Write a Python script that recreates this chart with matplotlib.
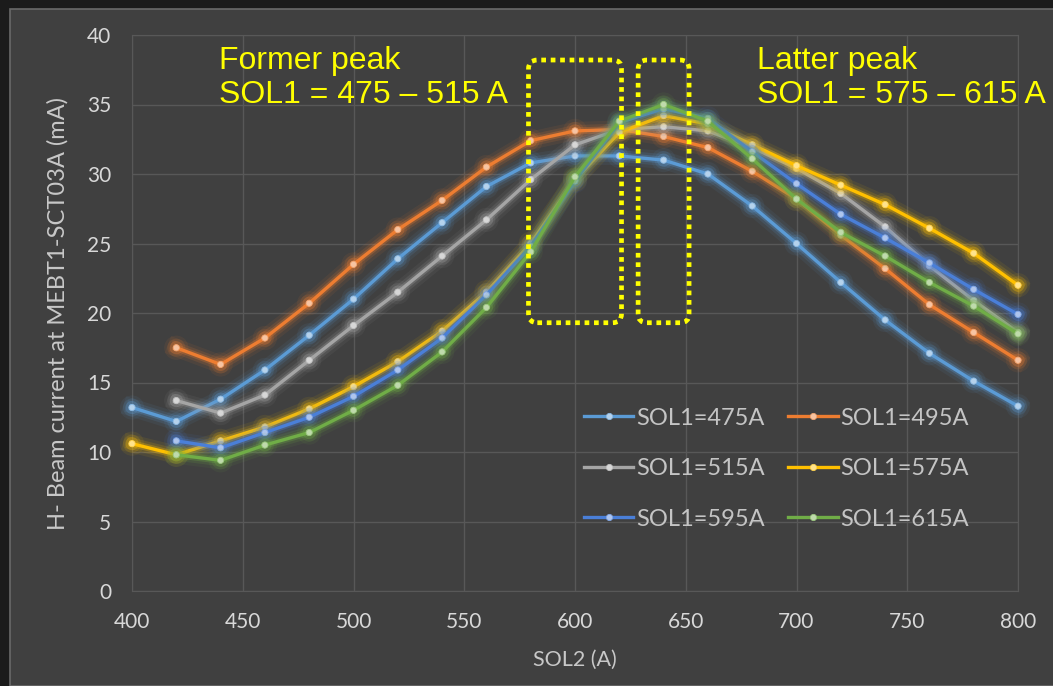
import matplotlib
matplotlib.use("Agg")
import matplotlib.pyplot as plt
import matplotlib.patheffects as pe
from matplotlib.patches import FancyBboxPatch, Rectangle
from matplotlib.colors import to_rgb

# SOL2 settings (A)
sol2_from400 = [400, 420, 440, 460, 480, 500, 520, 540, 560, 580, 600,
                620, 640, 660, 680, 700, 720, 740, 760, 780, 800]
sol2_from420 = sol2_from400[1:]

# H- beam current at MEBT1-SCT03A (mA)
cur_475 = [13.2, 12.2, 13.8, 15.9, 18.4, 21.0, 23.9, 26.5, 29.1, 30.8, 31.3,
           31.3, 31.0, 30.0, 27.7, 25.0, 22.2, 19.5, 17.1, 15.1, 13.3]
cur_495 = [17.5, 16.3, 18.2, 20.7, 23.5, 26.0, 28.1, 30.5, 32.4, 33.1,
           33.2, 32.7, 31.9, 30.2, 28.2, 25.6, 23.2, 20.6, 18.6, 16.6]
cur_515 = [13.7, 12.8, 14.1, 16.6, 19.1, 21.5, 24.1, 26.7, 29.6, 32.1,
           33.2, 33.4, 33.1, 31.9, 30.4, 28.6, 26.2, 23.4, 20.9, 18.6]
cur_575 = [10.6, 9.8, 10.8, 11.8, 13.1, 14.7, 16.5, 18.7, 21.5, 25.0, 29.6,
           33.0, 34.2, 33.6, 32.1, 30.6, 29.2, 27.8, 26.1, 24.3, 22.0]
cur_595 = [10.8, 10.3, 11.4, 12.5, 14.0, 15.9, 18.2, 21.3, 24.8, 29.5,
           33.7, 34.7, 34.0, 31.6, 29.3, 27.1, 25.4, 23.6, 21.7, 19.9]
cur_615 = [9.8, 9.4, 10.5, 11.4, 13.0, 14.8, 17.2, 20.4, 24.4, 29.8,
           33.8, 35.0, 33.8, 31.1, 28.2, 25.8, 24.1, 22.2, 20.5, 18.5]

labels = ["SOL1=475A", "SOL1=495A", "SOL1=515A",
          "SOL1=575A", "SOL1=595A", "SOL1=615A"]
xs = [sol2_from400, sol2_from420, sol2_from420,
      sol2_from400, sol2_from420, sol2_from420]
ys = [cur_475, cur_495, cur_515, cur_575, cur_595, cur_615]
colors = ["#5B9BD5", "#ED7D31", "#A5A5A5", "#FFC000", "#4A7FD8", "#70AD47"]

BG = "#404040"
GRID = "#585858"
TXT = "#d8d8d8"
FONT = ["Lato", "DejaVu Sans"]

fig = plt.figure(figsize=(10.53, 6.86), dpi=100)
fig.patch.set_facecolor("#1b1b1b")
fig.add_artist(Rectangle((10 / 1053, 0), 1.0, (686 - 9) / 686,
                         transform=fig.transFigure, facecolor=BG,
                         edgecolor="#6a6a6a", linewidth=1.2, zorder=0))

ax = fig.add_axes([132 / 1053, 95 / 686, 886 / 1053, 556 / 686])
ax.set_facecolor(BG)


def lighten(c, f=0.55):
    r, g, b = to_rgb(c)
    return (r + (1 - r) * f, g + (1 - g) * f, b + (1 - b) * f)


handles = []
for x, y, c, lab in zip(xs, ys, colors, labels):
    ln, = ax.plot(x, y, color=c, lw=2.4, marker="o", markersize=4.5,
                  markerfacecolor=lighten(c), markeredgecolor=lighten(c, 0.3),
                  markeredgewidth=0.6, label=lab, zorder=3, clip_on=False,
                  path_effects=[pe.Stroke(linewidth=13, foreground=c, alpha=0.08),
                                pe.Stroke(linewidth=8.5, foreground=c, alpha=0.14),
                                pe.Stroke(linewidth=5, foreground=c, alpha=0.28),
                                pe.Normal()])
    handles.append(ln)

ax.set_xlim(400, 800)
ax.set_ylim(0, 40)
ax.set_xticks(range(400, 801, 50))
ax.set_yticks(range(0, 41, 5))
ax.grid(True, color=GRID, lw=1.0)
ax.set_axisbelow(True)
for s in ax.spines.values():
    s.set_color(GRID)
ax.tick_params(length=0, pad=15, labelcolor=TXT, labelsize=15)
for t in ax.get_xticklabels() + ax.get_yticklabels():
    t.set_family(FONT)

ax.set_xlabel("SOL2 (A)", color="#c8c8c8", fontsize=15.5, family=FONT,
              labelpad=13)
ax.set_ylabel("H- Beam current at MEBT1-SCT03A (mA)", color="#c8c8c8",
              fontsize=17, family=FONT, labelpad=13)

# row-major legend order like the original (2 columns)
order = [0, 2, 4, 1, 3, 5]
leg = ax.legend([handles[i] for i in order], [labels[i] for i in order],
                loc="upper left", bbox_to_anchor=(0.51, 0.33), ncol=2,
                frameon=False, handlelength=2.1,
                handletextpad=0.1, columnspacing=1.0, labelspacing=1.25,
                borderpad=0, borderaxespad=0,
                prop={"family": FONT, "size": 17})
for t in leg.get_texts():
    t.set_color("#c4c4c4")
for h in leg.legend_handles:
    h.set_path_effects([])

# annotations
yellow = "#FFFF00"
ax.text(439.5, 39.2, "Former peak\nSOL1 = 475 \u2013 515 A", color=yellow,
        fontsize=23, family="Liberation Sans", va="top", ha="left",
        linespacing=1.18, zorder=5)
ax.text(682.0, 39.2, "Latter peak\nSOL1 = 575 \u2013 615 A", color=yellow,
        fontsize=23, family="Liberation Sans", va="top", ha="left",
        linespacing=1.18, zorder=5)

aspect = (886 / 400) / (556 / 40)
for x0, x1 in [(579.0, 621.0), (628.5, 651.5)]:
    box = FancyBboxPatch((x0, 19.3), x1 - x0, 38.2 - 19.3,
                         boxstyle="round,pad=0,rounding_size=4",
                         mutation_aspect=aspect, fill=False,
                         edgecolor=yellow, lw=3.4, linestyle=(0, (1, 1)),
                         zorder=6, clip_on=False)
    ax.add_patch(box)

fig.savefig("out.png", dpi=100, facecolor=fig.get_facecolor())
